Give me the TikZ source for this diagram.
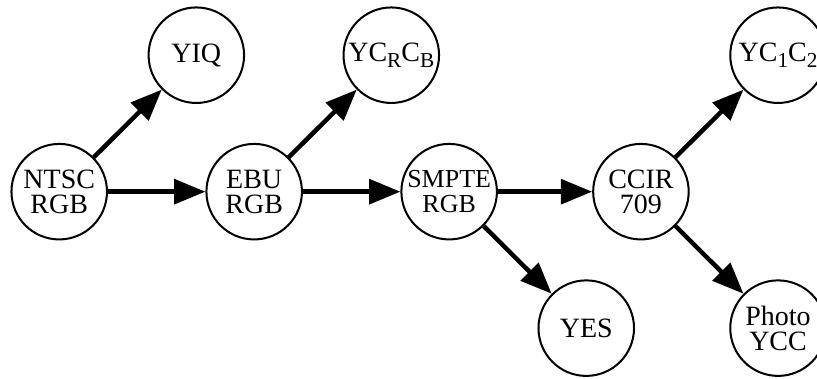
\documentclass[tikz,border=0pt]{standalone}
\usepackage{fontspec}
\setmainfont{Liberation Serif}
\usetikzlibrary{
  shapes,
  positioning,
  arrows.meta
}

\newcommand{\lowsub}[1]{\raisebox{-0.45ex}{\fontsize{9.5}{9.5}\selectfont #1}}

\tikzset{
  space/.style = {circle, draw, line width=0.9pt, minimum size=1.5cm,
                  inner sep=0pt, align=center,
                  font=\fontsize{12.5}{11.2}\selectfont},
  conv/.style  = {line width=2pt, -{Triangle[length=14pt,width=11pt]}}
}

\begin{document}
\begin{tikzpicture}[node distance = 1.06cm and 1.07cm]
    \useasboundingbox (-0.93,-2.94) rectangle (11.90,3.01);

    \node[space] (ntsc) at (0,0) {NTSC\\RGB};
    \node[space, above right = of ntsc] (yiq) {YIQ};
    \node[space, right = 1.53cm of ntsc] (ebu) {EBU\\RGB};
    \node[space, above right = of ebu] (ycrcb) {YC\lowsub{R}C\lowsub{B}};
    \node[space, right = 1.53cm of ebu, font=\fontsize{11.6}{11.2}\selectfont] (smpte) {SMPTE\\RGB};
    \node[space, below right = of smpte] (yes) {YES};
    \node[space, right = 1.48cm of smpte] (ccir) {CCIR\\709};
    \node[space, above right = of ccir] (ycc) {YC\lowsub{1}C\lowsub{2}};
    \node[space, below right = of ccir] (photo) {Photo\\YCC};

    \draw[conv] (ntsc) edge (yiq);
    \draw[conv] (ntsc) edge (ebu);
    \draw[conv] (ebu) edge (ycrcb);
    \draw[conv] (ebu) edge (smpte);
    \draw[conv] (smpte) edge (yes);
    \draw[conv] (smpte) edge (ccir);
    \draw[conv] (ccir) edge (ycc);
    \draw[conv] (ccir) edge (photo);
  \end{tikzpicture}
\end{document}
